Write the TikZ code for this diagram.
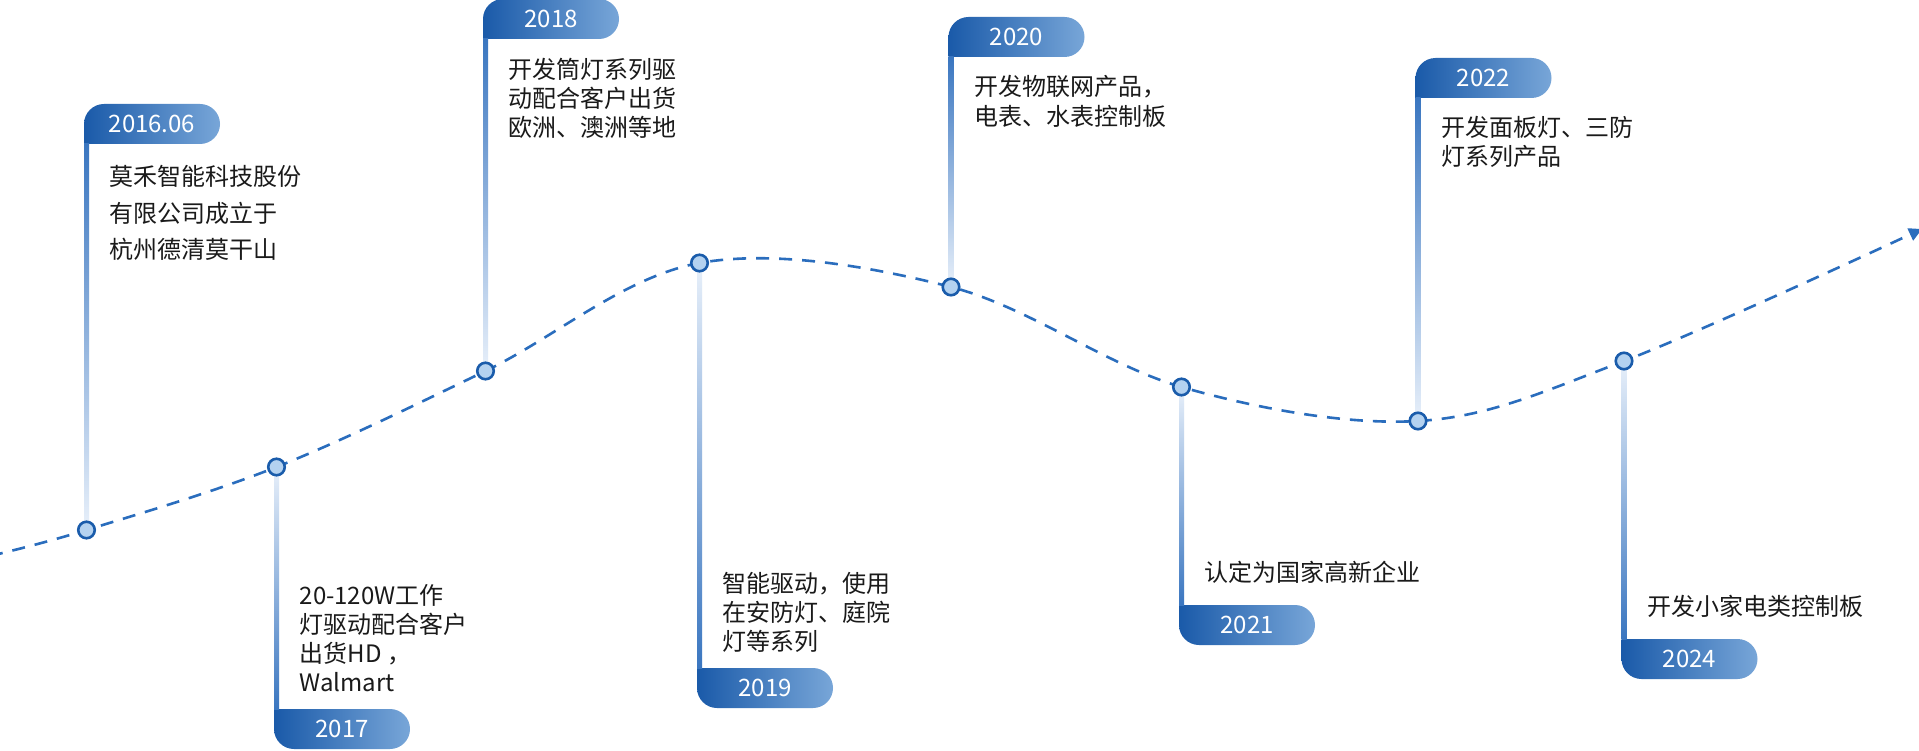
\documentclass[tikz,border=0pt]{standalone}
\usepackage{fontspec}
\setmainfont{Noto Sans CJK SC}
\usetikzlibrary{arrows.meta}
\definecolor{pillL}{HTML}{1A5AA9}
\definecolor{pillR}{HTML}{78A6D8}
\definecolor{stemD}{HTML}{3A76C0}
\definecolor{stemL}{HTML}{E8F0FA}
\definecolor{dotF}{HTML}{B4D2F0}
\definecolor{dotD}{HTML}{1A5CAB}
\definecolor{curveC}{HTML}{2A6DBD}
\definecolor{txtC}{HTML}{1A1A1A}
\tikzset{
  tldot/.style={circle,minimum size=16.5pt,inner sep=0pt,fill=dotF,draw=dotD,line width=2.6pt},
  yearlbl/.style={text=white,inner sep=0pt,font=\fontsize{24}{24}\selectfont},
  desc/.style={text=txtC,inner sep=0pt,align=left,anchor=base west},
  curveline/.style={draw=curveC,line width=2.6pt,dash pattern=on 13pt off 10pt}
}
% #6 = baseline of the LAST text line
\newcommand{\tlup}[8]{%
  \pgfmathsetmacro{\tlL}{#2-2.5}%
  \pgfmathsetmacro{\tlB}{#4+40}%
  \pgfmathsetmacro{\tlRc}{#2-2.5+116}%
  \pgfmathsetmacro{\tlTr}{#4+20}%
  \pgfmathsetmacro{\tlC}{#2-2.5+68}%
  \shade[left color=pillL,right color=pillR] (\tlL,\tlB) -- (\tlL,\tlTr) arc[start angle=180,end angle=270,radius=20] -- (\tlRc,#4) arc[start angle=270,end angle=450,radius=20] -- cycle;
  \shade[top color=stemD,bottom color=stemL] (\tlL,\tlB) rectangle ({\tlL+5},#3);
  \node[yearlbl] (#1-year) at (\tlC,{#4+20}) {#5};
  \node[tldot] (#1-dot) at (#2,#3) {};
  \node[desc,font=\fontsize{24}{#8}\selectfont] (#1-text) at ({#2+23},#6) {#7};
}
\newcommand{\tldown}[8]{%
  \pgfmathsetmacro{\tlL}{#2-2.5}%
  \pgfmathsetmacro{\tlB}{#4+40}%
  \pgfmathsetmacro{\tlRc}{#2-2.5+116}%
  \pgfmathsetmacro{\tlLr}{#2-2.5+20}%
  \pgfmathsetmacro{\tlC}{#2-2.5+68}%
  \shade[left color=pillL,right color=pillR] (\tlL,#4) -- (\tlRc,#4) arc[start angle=270,end angle=450,radius=20] -- (\tlLr,\tlB) arc[start angle=90,end angle=180,radius=20] -- cycle;
  \shade[top color=stemL,bottom color=stemD] (\tlL,#3) rectangle ({\tlL+5},#4);
  \node[yearlbl] (#1-year) at (\tlC,{#4+20}) {#5};
  \node[tldot] (#1-dot) at (#2,#3) {};
  \node[desc,font=\fontsize{24}{#8}\selectfont] (#1-text) at ({#2+23},#6) {#7};
}
\begin{document}
\begin{tikzpicture}[x=1pt,y=-1pt]
\fill[white] (0,0) rectangle (1919,751);
\useasboundingbox (0,0) rectangle (1919,751);
\draw[curveline,-{Triangle[length=13pt,width=13pt]}] plot[smooth,tension=0.58] coordinates {(-10,556) (86.5,530) (276.5,467) (485.5,371) (699.5,263) (951,287) (1181.5,387) (1418,421) (1624,361) (1922,229)};
\tlup{e1}{86.5}{530}{104}{2016.06}{259}{莫禾智能科技股份\\有限公司成立于\\杭州德清莫干山}{36.5}
\tldown{e2}{276.5}{467}{709}{2017}{691}{20-120W工作\\灯驱动配合客户\\出货HD ，\\Walmart}{29}
\tlup{e3}{485.5}{371}{-1}{2018}{137}{开发筒灯系列驱\\动配合客户出货\\欧洲、澳洲等地}{29}
\tldown{e4}{699.5}{263}{668}{2019}{650}{智能驱动，使用\\在安防灯、庭院\\灯等系列}{29}
\tlup{e5}{951}{287}{17}{2020}{126}{开发物联网产品，\\电表、水表控制板}{30}
\tldown{e6}{1181.5}{387}{605}{2021}{581}{认定为国家高新企业}{29}
\tlup{e7}{1418}{421}{58}{2022}{165.5}{开发面板灯、三防\\灯系列产品}{28.5}
\tldown{e8}{1624}{361}{639}{2024}{615}{开发小家电类控制板}{29}
\end{tikzpicture}
\end{document}
